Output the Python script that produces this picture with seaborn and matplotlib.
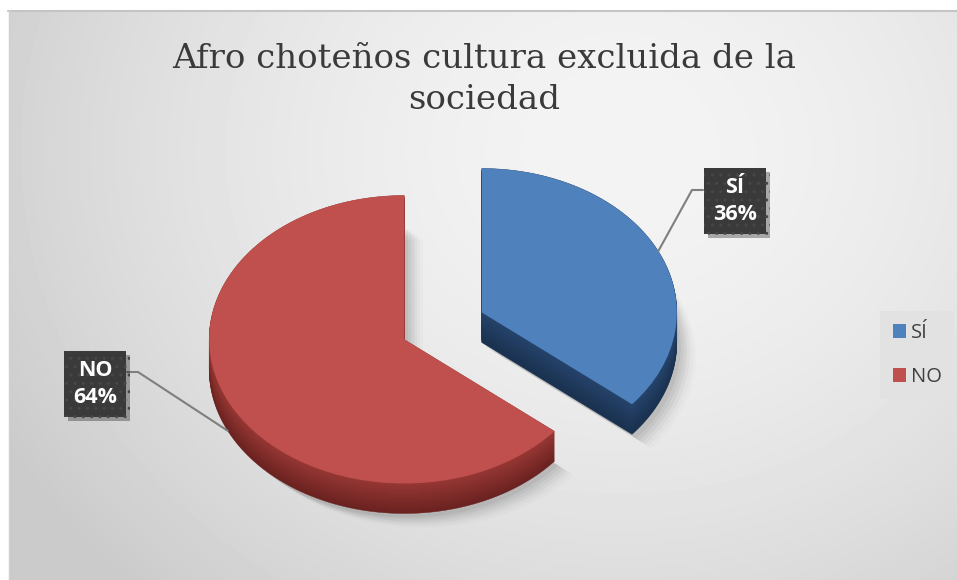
import numpy as np
import matplotlib
matplotlib.use('Agg')
import matplotlib.pyplot as plt
import matplotlib.patheffects as pe
from matplotlib.patches import Polygon, Rectangle
import seaborn as sns

# data
labels = ['SÍ', 'NO']
values = [36, 64]
top_colors = ['#4F81BD', '#C0504D']
side_colors = [('#25436B', '#1A314F'), ('#963734', '#6A2220')]
title = 'Afro choteños cultura excluida de la\nsociedad'

W, H = 957, 580
sns.set_theme(style='white')
plt.rcParams['font.family'] = ['Open Sans', 'DejaVu Sans']

fig = plt.figure(figsize=(W / 100, H / 100), dpi=100)

# background gradient of the chart area
bg = fig.add_axes([0, 0, 1, 1], zorder=0)
yy, xx = np.mgrid[0:H, 0:W]
r = np.hypot(xx - 620, (yy - 150) * 1.15)
shade = 0.955 - 0.16 * np.clip(r / 700, 0, 1) ** 1.7
bg.imshow(shade, cmap='gray', vmin=0, vmax=1, extent=(0, W, H, 0),
          aspect='auto', interpolation='bilinear')
bg.add_patch(Rectangle((0, 0), 8, H, color='white'))
bg.add_patch(Rectangle((0, 0), W, 10, color='white'))
bg.plot([8, W], [10.5, 10.5], color='#C4C4C4', lw=1.5)
bg.plot([8.5, 8.5], [10, H], color='#D0D0D0', lw=1)
bg.set_xlim(0, W)
bg.set_ylim(H, 0)
bg.axis('off')

# pie axes: pixel scale of the tilted pie
cx, cy = 443, 326
sx, sy = 195, 144
depth = 30 / sy


def px(x, y):
    return (x - cx) / sx, (cy - y) / sy


ax = fig.add_axes([0, 0, 1, 1], zorder=1)
ax.patch.set_alpha(0)
wedges, _ = ax.pie(values, colors=top_colors, startangle=90, counterclock=False,
                   explode=[0.22, 0.22], wedgeprops=dict(linewidth=0))
ax.set_aspect('auto')
ax.set_xlim(-cx / sx, (W - cx) / sx)
ax.set_ylim(-(H - cy) / sy, cy / sy)
ax.axis('off')

# 3d body: extrude each wedge downwards
for w, (c_top, c_bot) in zip(wedges, side_colors):
    w.set_zorder(4)
    t = np.linspace(w.theta1, w.theta2, 200)
    ox, oy = w.center
    pts = np.column_stack([ox + w.r * np.cos(np.radians(t)),
                           oy + w.r * np.sin(np.radians(t))])
    pts = np.vstack([[ox, oy], pts])
    # soft shadow
    for k, a in zip(range(6), [0.05, 0.045, 0.04, 0.03, 0.02, 0.015]):
        off = np.array([(4 + 3 * k) / sx, -(depth + (4 + 2 * k) / sy)])
        ax.add_patch(Polygon(pts + off, closed=True, facecolor='black',
                             alpha=a, lw=0, zorder=2))
    c1 = np.array(matplotlib.colors.to_rgb(c_top))
    c2 = np.array(matplotlib.colors.to_rgb(c_bot))
    for s in np.linspace(depth, 0, 31):
        f = s / depth
        col = c1 * (1 - f) + c2 * f
        ax.add_patch(Polygon(pts - [0, s], closed=True, facecolor=col,
                             lw=0.3, edgecolor=col, zorder=3))

# data labels with leader lines
box_pos = [(735, 201), (95, 384)]
line_start = [[(703, 190), (692, 190)], [(127, 372), (138, 372)]]
for w, lab, val, (bx, by), ls in zip(wedges, labels, values, box_pos, line_start):
    mid = np.radians((w.theta1 + w.theta2) / 2)
    ax_ = w.center[0] + w.r * np.cos(mid)
    ay_ = w.center[1] + w.r * np.sin(mid)
    if np.sin(mid) < 0:
        ay_ -= depth
    lx = [px(*p)[0] for p in ls] + [ax_]
    ly = [px(*p)[1] for p in ls] + [ay_]
    ax.plot(lx, ly, color='#7F7F7F', lw=1.5, zorder=5)
    tx, ty = px(bx, by)
    t = ax.text(tx, ty, f'{lab}\n{val}%', ha='center', va='center', fontsize=15.5,
                fontweight='bold', color='white', linespacing=1.35,
                bbox=dict(boxstyle='square,pad=0.42', facecolor='#3A3A3A',
                          edgecolor='#474747', hatch='..', lw=0),
                zorder=6)
    t.get_bbox_patch().set_path_effects(
        [pe.SimplePatchShadow(offset=(3, -3), shadow_rgbFace='black', alpha=0.3),
         pe.Normal()])

# title
fig.text(484 / W, 1 - 43 / H, title, ha='center', va='top', fontsize=24.5,
         family='DejaVu Serif', color='#3A3A3A', linespacing=1.35)

# legend
leg = fig.legend(wedges, labels, loc='center', bbox_to_anchor=(917 / W, 1 - 355 / H),
                 frameon=True, facecolor='#E2E2E2', edgecolor='none', framealpha=1,
                 fancybox=False, fontsize=14.5, handlelength=0.65, handleheight=0.65,
                 handletextpad=0.25, labelspacing=1.2, borderpad=0.6)
for t in leg.get_texts():
    t.set_color('#404040')

fig.savefig('out.png', dpi=100)
